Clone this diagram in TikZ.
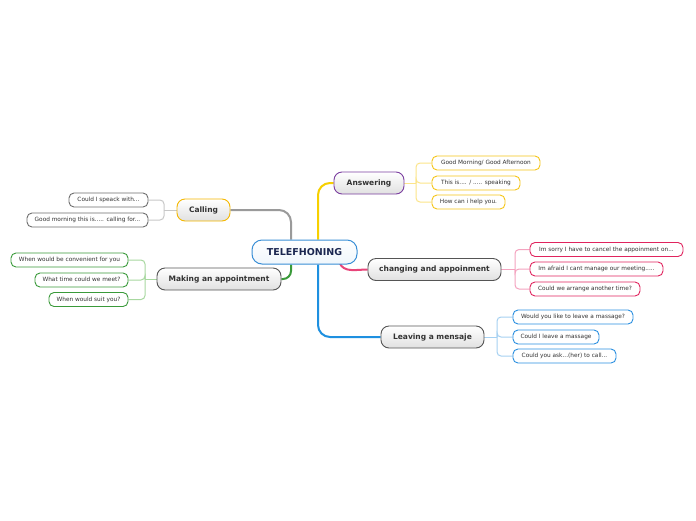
\documentclass[tikz,border=0pt]{standalone}
\usepackage{fontspec}
\setmainfont{DejaVu Sans}
\usetikzlibrary{calc}
\pgfdeclarelayer{background}
\pgfsetlayers{background,main}
\definecolor{txt}{HTML}{333333}
\definecolor{navy}{HTML}{1A2650}
\definecolor{cblue}{HTML}{3A8FD6}
\definecolor{cyel}{HTML}{F7D000}
\definecolor{cyelb}{HTML}{F5C518}
\definecolor{cyelp}{HTML}{FCE58A}
\definecolor{cpur}{HTML}{7B3FA0}
\definecolor{corg}{HTML}{F5B800}
\definecolor{cgray}{HTML}{9A9A9A}
\definecolor{cgrayb}{HTML}{6E6E6E}
\definecolor{cgrayp}{HTML}{C8C8C8}
\definecolor{cgrn}{HTML}{3A9A3A}
\definecolor{cgrnp}{HTML}{A8D8A0}
\definecolor{cpink}{HTML}{E8457A}
\definecolor{cpinkb}{HTML}{E0245E}
\definecolor{cpinkp}{HTML}{F4A3BF}
\definecolor{cbl}{HTML}{1E90E0}
\definecolor{cblb}{HTML}{2A8FE0}
\definecolor{cblp}{HTML}{A6D1F2}
\definecolor{cdark}{HTML}{555555}
\tikzset{
  mainbox/.style={draw=cdark, line width=0.9pt, rounded corners=8pt, top color=white, bottom color=black!12,
    minimum height=22pt, inner sep=0pt, text=txt, text height=5.4pt, text depth=1.4pt,
    font=\fontsize{7.5}{8}\selectfont\bfseries},
  leaf/.style={draw, line width=0.9pt, rounded corners=5pt, fill=white, minimum height=14pt, inner sep=0pt,
    text=txt, text height=4.2pt, text depth=1.1pt, font=\fontsize{5.8}{6}\selectfont},
  centerbox/.style={draw=cblue, line width=1pt, rounded corners=10pt, top color=white, bottom color=cblue!8,
    minimum height=24pt, inner sep=0pt, text=navy, text height=6.6pt, text depth=0pt,
    font=\fontsize{9.5}{10}\selectfont\bfseries},
  mainline/.style={line width=2pt},
  subline/.style={line width=1pt, rounded corners=4pt},
}
\begin{document}
\begin{tikzpicture}[x=1pt,y=-1pt]
\useasboundingbox (0,0) rectangle (696,520);

% center
\node[centerbox, minimum width=105pt] (tel) at (304.5,252) {TELEFHONING};

% main topics
\node[mainbox, draw=cpur, minimum width=70pt] (ans) at (369,183) {Answering};
\node[mainbox, minimum width=133pt] (chg) at (434.5,269.5) {changing and appoinment};
\node[mainbox, minimum width=103pt] (lea) at (432.5,337) {Leaving a mensaje};
\node[mainbox, draw=corg, minimum width=53pt] (cal) at (203.5,210) {Calling};
\node[mainbox, minimum width=124pt] (mak) at (219,279) {Making an appointment};

% leaves
\node[leaf, draw=cyelb, minimum width=108pt] (a1) at (486,163) {Good Morning/ Good Afternoon};
\node[leaf, draw=cyelb, minimum width=88pt] (a2) at (476,183) {This is.... / ..... speaking};
\node[leaf, draw=cyelb, minimum width=73pt] (a3) at (468.5,202) {How can i help you.};

\node[leaf, draw=cpinkb, minimum width=153pt] (c1) at (606.5,249.5) {Im sorry I have to cancel the appoinment on...};
\node[leaf, draw=cpinkb, minimum width=133pt] (c2) at (596.5,269) {Im afraid I cant manage our meeting.....};
\node[leaf, draw=cpinkb, minimum width=110pt] (c3) at (585,289) {Could we arrange another time?};

\node[leaf, draw=cblb, minimum width=120pt] (l1) at (573,317) {Would you like to leave a massage?};
\node[leaf, draw=cblb, minimum width=86pt] (l2) at (556,337) {Could I leave a massage};
\node[leaf, draw=cblb, minimum width=103pt] (l3) at (564.5,356) {Could you ask...(her) to call...};

\node[leaf, draw=cgrayb, minimum width=79pt] (k1) at (108.5,200) {Could I speack with...};
\node[leaf, draw=cgrayb, minimum width=121pt] (k2) at (87.5,220) {Good morning this is..... calling for...};

\node[leaf, draw=cgrn, minimum width=117pt] (m1) at (69.5,260) {When would be convenient for you};
\node[leaf, draw=cgrn, minimum width=93pt] (m2) at (81.5,280) {What time could we meet?};
\node[leaf, draw=cgrn, minimum width=79pt] (m3) at (88.5,299.5) {When would suit you?};

\begin{pgfonlayer}{background}
\fill[white] (0,0) rectangle (696,520);
% main connectors
\coordinate (tnr) at ($(tel.north)+(13.5,0)$);
\coordinate (tnl) at ($(tel.north)+(-13.5,0)$);
\coordinate (tsr) at ($(tel.south)+(13.5,0)$);
\coordinate (tsl) at ($(tel.south)+(-13.5,0)$);
\coordinate (tse) at ($(tel.south)+(35,-2)$);
\draw[mainline, cyel, rounded corners=12pt] (tnr) |- (ans.west);
\draw[mainline, cgray, rounded corners=12pt] (tnl) |- (cal.east);
\draw[mainline, cgrn, rounded corners=8pt] (tsl) |- (mak.east);
\draw[mainline, cbl, rounded corners=12pt] (tsr) |- (lea.west);
\draw[mainline, cpink] (tse) to[out=-70,in=180] (chg.west);

% sub connectors
\coordinate (ja) at (416,183);
\draw[subline, cyelp] (ans.east) -- (ja);
\foreach \n in {a1,a2,a3} \draw[subline, cyelp] (ja) |- (\n.west);

\coordinate (jc) at (515,269.5);
\draw[subline, cpinkp] (chg.east) -- (jc);
\foreach \n in {c1,c2,c3} \draw[subline, cpinkp] (jc) |- (\n.west);

\coordinate (jl) at (497,337);
\draw[subline, cblp] (lea.east) -- (jl);
\foreach \n in {l1,l2,l3} \draw[subline, cblp] (jl) |- (\n.west);

\coordinate (jk) at (164,210);
\draw[subline, cgrayp] (cal.west) -- (jk);
\foreach \n in {k1,k2} \draw[subline, cgrayp] (jk) |- (\n.east);

\coordinate (jm) at (145,279);
\draw[subline, cgrnp] (mak.west) -- (jm);
\foreach \n in {m1,m2,m3} \draw[subline, cgrnp] (jm) |- (\n.east);
\end{pgfonlayer}
\end{tikzpicture}
\end{document}
